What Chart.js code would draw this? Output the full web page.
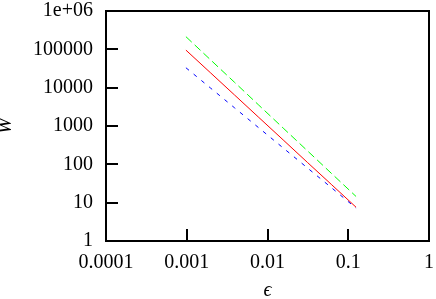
<!DOCTYPE html>
<html lang="en">
<head>
    <meta charset="UTF-8">
    <title>W vs epsilon</title>
    <script src="https://cdn.jsdelivr.net/npm/chart.js"></script>
    <style>
        body { margin: 0; background: #fff; }
    </style>
</head>
<body>

<canvas id="chart" width="436" height="299"></canvas>

<script>
    // data (log-log)
    const epsilon = [0.0009765625, 0.001953125, 0.00390625, 0.0078125, 0.015625, 0.03125, 0.0625, 0.125];
    const wRed = [95500, 24800, 6440, 1670, 434, 112, 29.2, 7.6];
    const wGreen = [214000, 54200, 13800, 3490, 885, 225, 57, 14.5];
    const wBlue = [33100, 9930, 2980, 893, 268, 80.5, 24.2, 7.2];

    const xTicks = [0.0001, 0.001, 0.01, 0.1, 1];
    const yTicks = [1, 10, 100, 1000, 10000, 100000, 1000000];

    const serif = "'Liberation Serif', 'DejaVu Serif', serif";

    function points(ys) {
        return epsilon.map((x, i) => ({ x: x, y: ys[i] }));
    }

    // frame round the plot and inward ticks on left/bottom
    const framePlugin = {
        id: 'frame',
        afterDraw(chart) {
            const c = chart.ctx;
            const a = chart.chartArea;
            const xs = chart.scales.x, ys = chart.scales.y;
            c.save();
            c.strokeStyle = '#000';
            c.lineWidth = 2;
            c.beginPath();
            xTicks.forEach(v => {
                const px = Math.round(xs.getPixelForValue(v));
                c.moveTo(px, a.bottom);
                c.lineTo(px, a.bottom - 12);
            });
            yTicks.forEach(v => {
                const py = Math.round(ys.getPixelForValue(v));
                c.moveTo(a.left, py);
                c.lineTo(a.left + 12, py);
            });
            c.stroke();
            c.strokeRect(a.left, a.top, a.right - a.left, a.bottom - a.top);
            c.restore();
        }
    };

    // drop the extra label padding chart.js adds so the box sits where the layout says
    function noPad(s) {
        s.paddingTop = 0;
        s.paddingBottom = 0;
        s.paddingLeft = 0;
        s.paddingRight = 0;
    }

    const chart = new Chart(document.getElementById('chart').getContext('2d'), {
        type: 'line',
        data: {
            datasets: [
                {
                    data: points(wRed),
                    borderColor: '#ff0000',
                    borderWidth: 1,
                    pointRadius: 0,
                    fill: false
                },
                {
                    data: points(wGreen),
                    borderColor: '#00ff00',
                    borderWidth: 1,
                    borderDash: [8, 4],
                    pointRadius: 0,
                    fill: false
                },
                {
                    data: points(wBlue),
                    borderColor: '#0000ff',
                    borderWidth: 1,
                    borderDash: [4, 6],
                    pointRadius: 0,
                    fill: false
                }
            ]
        },
        options: {
            responsive: false,
            animation: false,
            layout: { padding: { top: 11, right: 7, left: 0, bottom: 0 } },
            plugins: {
                legend: { display: false },
                tooltip: { enabled: false }
            },
            scales: {
                x: {
                    type: 'logarithmic',
                    min: 0.0001,
                    max: 1,
                    grid: { display: false, drawTicks: false },
                    border: { display: false },
                    afterBuildTicks: s => { s.ticks = xTicks.map(v => ({ value: v })); },
                    afterFit: s => { s.height = 58; noPad(s); },
                    ticks: {
                        color: '#000',
                        padding: 10,
                        maxRotation: 0,
                        font: { family: serif, size: 20 },
                        callback: v => String(v)
                    },
                    title: {
                        display: true,
                        text: 'ϵ',
                        color: '#000',
                        padding: 0,
                        font: { family: serif, size: 20, style: 'italic', lineHeight: 0.85 }
                    }
                },
                y: {
                    type: 'logarithmic',
                    min: 1,
                    max: 1000000,
                    grid: { display: false, drawTicks: false },
                    border: { display: false },
                    afterBuildTicks: s => { s.ticks = yTicks.map(v => ({ value: v })); },
                    afterFit: s => { s.width = 106; noPad(s); },
                    ticks: {
                        color: '#000',
                        padding: 13,
                        font: { family: serif, size: 20 },
                        callback: v => (v === 1000000 ? '1e+06' : String(v))
                    },
                    title: {
                        display: true,
                        text: 'W',
                        color: '#000',
                        padding: 0,
                        font: { family: serif, size: 20, style: 'italic', lineHeight: 0.6 }
                    }
                }
            }
        },
        plugins: [framePlugin]
    });
</script>

</body>
</html>
